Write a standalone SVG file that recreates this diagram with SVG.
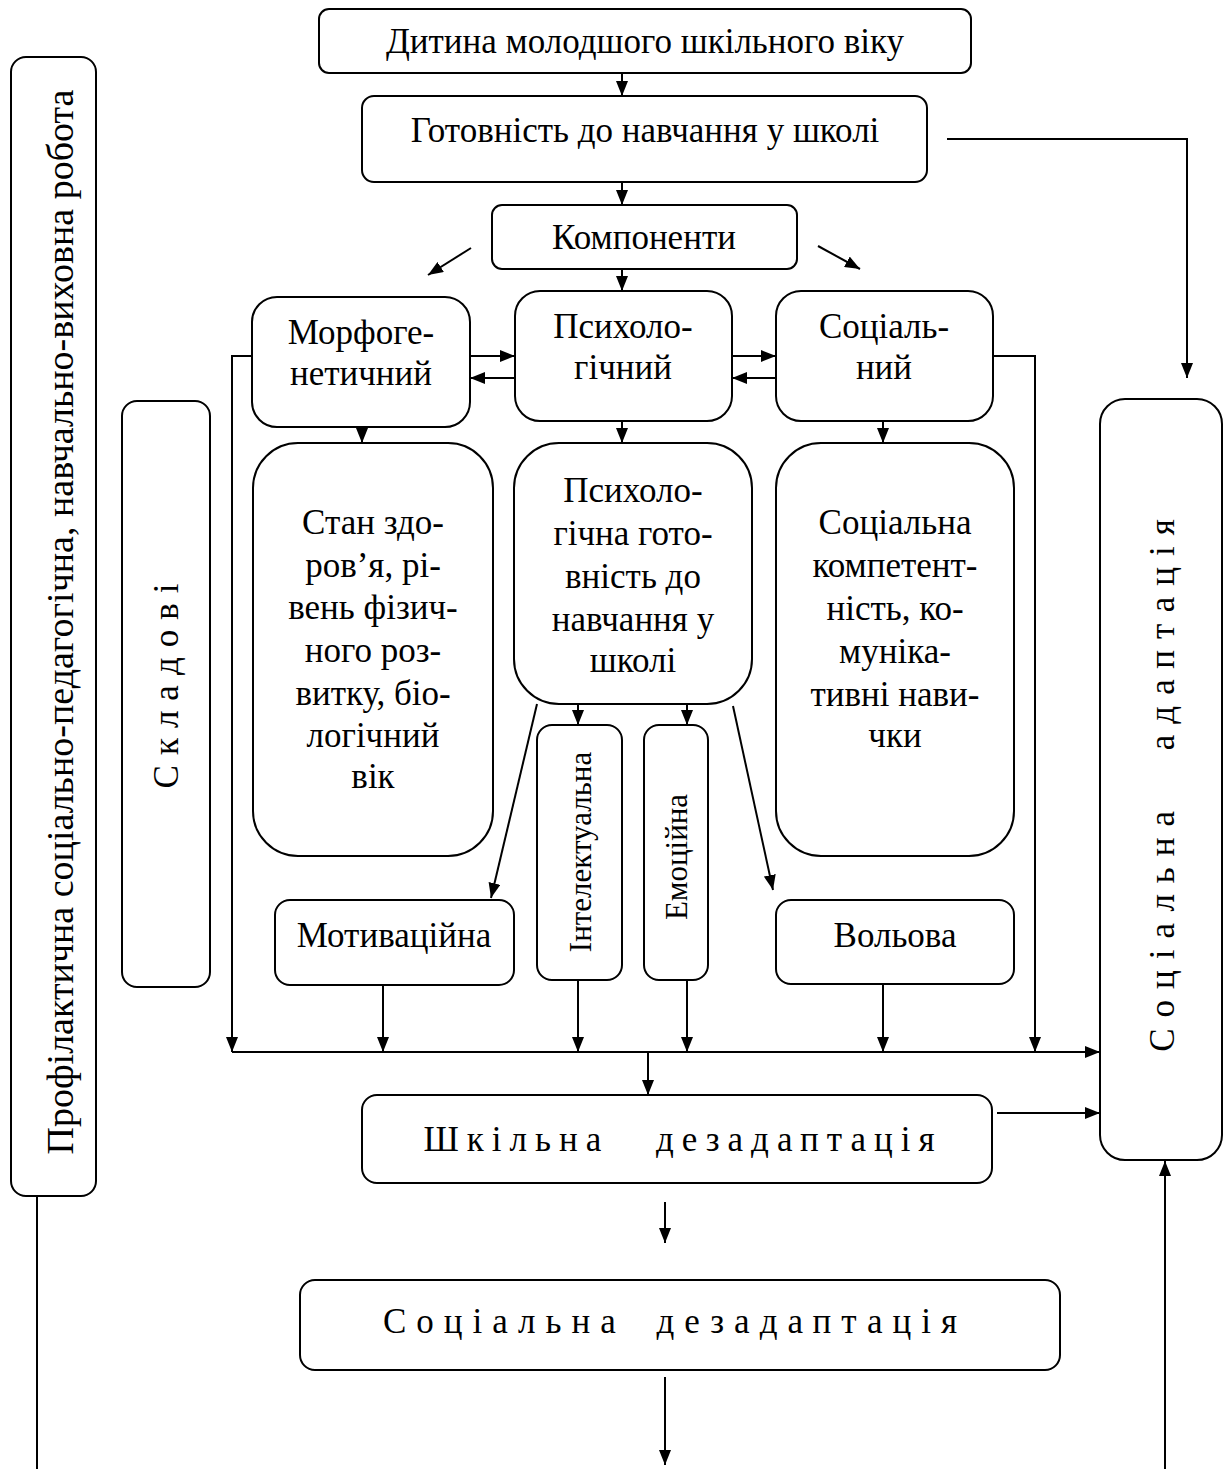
<svg xmlns="http://www.w3.org/2000/svg" width="1224" height="1469" viewBox="0 0 1224 1469">
<style>
.box{fill:#fff;stroke:#000;stroke-width:2}
.t{font-family:"Liberation Serif","Times New Roman",serif;font-size:35px;fill:#000;text-anchor:middle}
.v{font-size:31px}
.big{font-size:38px}
.c{fill:none;stroke:#000;stroke-width:2}
</style>
<defs>
<marker id="ah" viewBox="0 0 15 12" refX="15" refY="6" markerWidth="15" markerHeight="12" orient="auto" markerUnits="userSpaceOnUse">
<path d="M0,0 L15,6 L0,12 z" fill="#000"/>
</marker>
</defs>
<rect width="1224" height="1469" fill="#fff"/>
<g id="connectors">
<line class="c" x1="622" y1="73" x2="622" y2="96" marker-end="url(#ah)"/>
<line class="c" x1="622" y1="182" x2="622" y2="205" marker-end="url(#ah)"/>
<line class="c" x1="471" y1="248" x2="428" y2="275" marker-end="url(#ah)"/>
<line class="c" x1="818" y1="246" x2="860" y2="269" marker-end="url(#ah)"/>
<line class="c" x1="622" y1="269" x2="622" y2="291" marker-end="url(#ah)"/>
<line class="c" x1="470" y1="356" x2="515" y2="356" marker-end="url(#ah)"/>
<line class="c" x1="515" y1="378" x2="470" y2="378" marker-end="url(#ah)"/>
<line class="c" x1="732" y1="356" x2="776" y2="356" marker-end="url(#ah)"/>
<line class="c" x1="776" y1="378" x2="732" y2="378" marker-end="url(#ah)"/>
<polyline class="c" points="252,356 232,356 232,1052" marker-end="url(#ah)"/>
<polyline class="c" points="993,356 1035,356 1035,1052" marker-end="url(#ah)"/>
<line class="c" x1="362" y1="427" x2="362" y2="443" marker-end="url(#ah)"/>
<line class="c" x1="622" y1="421" x2="622" y2="443" marker-end="url(#ah)"/>
<line class="c" x1="883" y1="421" x2="883" y2="443" marker-end="url(#ah)"/>
<line class="c" x1="578" y1="704" x2="578" y2="725" marker-end="url(#ah)"/>
<line class="c" x1="687" y1="704" x2="687" y2="725" marker-end="url(#ah)"/>
<line class="c" x1="537" y1="704" x2="491" y2="898" marker-end="url(#ah)"/>
<line class="c" x1="733" y1="706" x2="773" y2="890" marker-end="url(#ah)"/>
<line class="c" x1="383" y1="985" x2="383" y2="1052" marker-end="url(#ah)"/>
<line class="c" x1="578" y1="980" x2="578" y2="1052" marker-end="url(#ah)"/>
<line class="c" x1="687" y1="980" x2="687" y2="1052" marker-end="url(#ah)"/>
<line class="c" x1="883" y1="984" x2="883" y2="1052" marker-end="url(#ah)"/>
<line class="c" x1="232" y1="1052" x2="1100" y2="1052" marker-end="url(#ah)"/>
<line class="c" x1="648" y1="1052" x2="648" y2="1095" marker-end="url(#ah)"/>
<line class="c" x1="997" y1="1113" x2="1100" y2="1113" marker-end="url(#ah)"/>
<polyline class="c" points="947,139 1187,139 1187,378" marker-end="url(#ah)"/>
<line class="c" x1="665" y1="1202" x2="665" y2="1243" marker-end="url(#ah)"/>
<line class="c" x1="665" y1="1377" x2="665" y2="1465" marker-end="url(#ah)"/>
<line class="c" x1="1165" y1="1469" x2="1165" y2="1161" marker-end="url(#ah)"/>
<line class="c" x1="37" y1="1197" x2="37" y2="1469"/>
</g>
<g id="n-child"><rect class="box" x="319" y="9" width="652" height="64" rx="10"/><text class="t" x="645" y="53">Дитина молодшого шкільного віку</text></g>
<g id="n-ready"><rect class="box" x="362" y="96" width="565" height="86" rx="12"/><text class="t" x="645" y="142">Готовність до навчання у школі</text></g>
<g id="n-comp"><rect class="box" x="492" y="205" width="305" height="64" rx="10"/><text class="t" x="644" y="249">Компоненти</text></g>
<g id="n-morph"><rect class="box" x="252" y="297" width="218" height="130" rx="25"/><text class="t" x="361" y="344">Морфоге-</text><text class="t" x="361" y="385">нетичний</text></g>
<g id="n-psych"><rect class="box" x="515" y="291" width="217" height="130" rx="25"/><text class="t" x="623" y="338">Психоло-</text><text class="t" x="623" y="379">гічний</text></g>
<g id="n-social"><rect class="box" x="776" y="291" width="217" height="130" rx="25"/><text class="t" x="884" y="338">Соціаль-</text><text class="t" x="884" y="379">ний</text></g>
<g id="n-health"><rect class="box" x="253" y="443" width="240" height="413" rx="45"/>
<text class="t" x="373" y="534">Стан здо-</text><text class="t" x="373" y="577">ров’я, рі-</text><text class="t" x="373" y="619">вень фізич-</text><text class="t" x="373" y="662">ного роз-</text><text class="t" x="373" y="705">витку, біо-</text><text class="t" x="373" y="747">логічний</text><text class="t" x="373" y="788">вік</text></g>
<g id="n-psyready"><rect class="box" x="514" y="443" width="238" height="261" rx="45"/>
<text class="t" x="633" y="502">Психоло-</text><text class="t" x="633" y="545">гічна гото-</text><text class="t" x="633" y="588">вність до</text><text class="t" x="633" y="631">навчання у</text><text class="t" x="633" y="672">школі</text></g>
<g id="n-soccomp"><rect class="box" x="776" y="443" width="238" height="413" rx="45"/>
<text class="t" x="895" y="534">Соціальна</text><text class="t" x="895" y="577">компетент-</text><text class="t" x="895" y="620">ність, ко-</text><text class="t" x="895" y="663">муніка-</text><text class="t" x="895" y="706">тивні нави-</text><text class="t" x="895" y="747">чки</text></g>
<g id="n-motiv"><rect class="box" x="275" y="900" width="239" height="85" rx="15"/><text class="t" x="394" y="947">Мотиваційна</text></g>
<g id="n-intel"><rect class="box" x="537" y="725" width="85" height="255" rx="15"/><text class="t v" transform="translate(580,852) rotate(-90)" y="11">Інтелектуальна</text></g>
<g id="n-emot"><rect class="box" x="644" y="725" width="64" height="255" rx="15"/><text class="t v" transform="translate(676,857) rotate(-90)" y="11">Емоційна</text></g>
<g id="n-vol"><rect class="box" x="776" y="900" width="238" height="84" rx="15"/><text class="t" x="895" y="947">Вольова</text></g>
<g id="n-school"><rect class="box" x="362" y="1095" width="630" height="88" rx="15"/><text class="t" x="683" y="1151" style="letter-spacing:8px;word-spacing:30px" xml:space="preserve">Шкільна дезадаптація</text></g>
<g id="n-socdis"><rect class="box" x="300" y="1280" width="760" height="90" rx="15"/><text class="t" x="675" y="1333" style="letter-spacing:10px;word-spacing:12px" xml:space="preserve">Соціальна дезадаптація</text></g>
<g id="n-prof"><rect class="box" x="11" y="57" width="85" height="1139" rx="15"/><text class="t big" transform="translate(60,622) rotate(-90)" y="13">Профілактична соціально-педагогічна, навчально-виховна робота</text></g>
<g id="n-sklad"><rect class="box" x="122" y="401" width="88" height="586" rx="15"/><text class="t" transform="translate(166,681) rotate(-90)" y="12" style="letter-spacing:10px">Складові</text></g>
<g id="n-socad"><rect class="box" x="1100" y="399" width="122" height="761" rx="25"/><text class="t" transform="translate(1162,780) rotate(-90)" y="12" style="letter-spacing:11px;word-spacing:30px" xml:space="preserve">Соціальна адаптація</text></g>
</svg>
